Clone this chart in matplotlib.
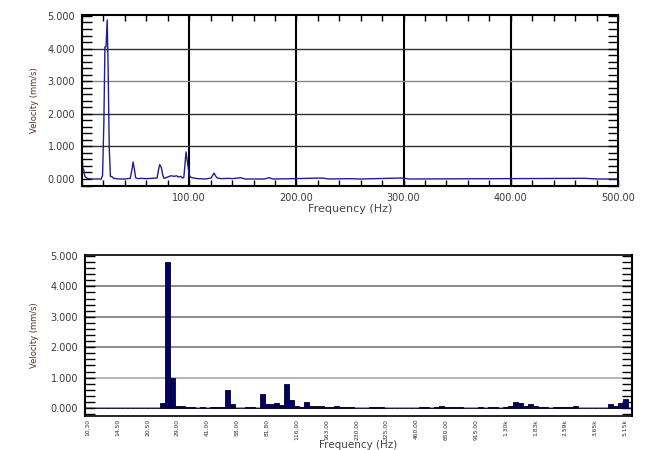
import numpy as np
import matplotlib.pyplot as plt
from matplotlib.ticker import MultipleLocator, FixedLocator

# top chart: velocity spectrum (Hz, mm/s)
top_freq = [0, 0.6, 1.5, 2.5, 3.5, 5, 8, 18, 19.2, 20.4, 21.4, 22.4, 23.5, 24.4, 25.4, 26.5,
            28, 29.5, 35, 40, 45, 46.5, 47.7, 49, 50, 52, 55, 60, 65, 70, 71.5, 72.5, 74,
            75.5, 76.5, 80, 83, 86, 88, 90, 92, 94, 95, 96.2, 97.0, 98.0, 99.0, 100, 101.5,
            103, 106, 108, 115, 120.5, 122, 123.2, 124.5, 126, 130, 137, 140, 143, 148, 152,
            170, 174.5, 178, 198, 224, 230, 249.5, 260, 298.5, 305, 470, 480, 500]
top_vel = [1.2, 0.33, 0.3, 0.1, 0.05, 0.02, 0.0, 0.0, 0.12, 1.75, 4.05, 4.05, 4.88, 3.35, 0.95, 0.08,
           0.07, 0.02, 0.0, 0.0, 0.02, 0.27, 0.52, 0.27, 0.04, 0.01, 0.02, 0.01, 0.02, 0.03, 0.3, 0.44, 0.35,
           0.1, 0.02, 0.06, 0.1, 0.08, 0.1, 0.06, 0.08, 0.03, 0.05, 0.5, 0.83, 0.6, 0.36, 0.12, 0.05,
           0.04, 0.02, 0.01, 0.0, 0.03, 0.12, 0.18, 0.1, 0.03, 0.01, 0.02, 0.01, 0.02, 0.04, 0.0,
           0.0, 0.04, 0.0, 0.01, 0.03, 0.0, 0.01, 0.0, 0.03, 0.0, 0.02, 0.0, 0.0]

# bottom chart: band levels, one value per band
band_labels = ['10.30', '14.50', '20.50', '29.00', '41.00', '58.00', '81.80', '116.00', '163.00',
               '230.00', '325.00', '460.00', '650.00', '915.00', '1.30k', '1.83k', '2.59k',
               '3.65k', '5.15k']
band_vel = [0, 0, 0, 0, 0, 0, 0, 0, 0, 0, 0, 0, 0, 0,
            0.01, 0.18, 4.8, 1.0, 0.07, 0.05, 0.02, 0.02, 0.01, 0.02, 0.0, 0.02, 0.03, 0.02,
            0.58, 0.13, 0.01, 0.01, 0.03, 0.03, 0.01, 0.47, 0.13, 0.14, 0.16, 0.1,
            0.78, 0.27, 0.06, 0.02, 0.2, 0.08, 0.06, 0.07, 0.03, 0.03, 0.07, 0.02,
            0.02, 0.02, 0.01, 0.0, 0.0, 0.02, 0.02, 0.02, 0.01, 0.0, 0.0, 0.01, 0.01, 0.0,
            0.01, 0.04, 0.03, 0.01, 0.04, 0.05, 0.03, 0.02, 0.02, 0.02, 0.01, 0.01, 0.01,
            0.02, 0.01, 0.02, 0.02, 0.01, 0.02, 0.06, 0.2, 0.15, 0.05, 0.12, 0.05, 0.02,
            0.02, 0.0, 0.02, 0.02, 0.02, 0.02, 0.06, 0.01, 0.01, 0.01, 0.01, 0.01, 0.01,
            0.13, 0.08, 0.15, 0.28]

tick_color = '#3a3a3a'
label_color = '#5b2b22'

fig = plt.figure(figsize=(6.54, 4.5), dpi=100)

# ---- top: line spectrum ----
ax1 = fig.add_axes([82 / 654, 1 - 186 / 450, 536 / 654, 171 / 450])
ax1.plot(top_freq, top_vel, color='#1f1f8f', lw=1.0)
ax1.set_xlim(0, 500)
ax1.set_ylim(-0.215, 5.03)
ax1.set_xticks([100, 200, 300, 400, 500])
ax1.set_xticklabels(['100.00', '200.00', '300.00', '400.00', '500.00'])
ax1.xaxis.set_minor_locator(MultipleLocator(20))
ax1.set_yticks([0, 1, 2, 3, 4, 5])
ax1.set_yticklabels(['%.3f' % v for v in range(6)])
ax1.yaxis.set_minor_locator(MultipleLocator(0.2))
ax1.tick_params(axis='x', which='both', direction='in', top=True, length=4, width=1,
                labelsize=7, labelcolor=tick_color, pad=5)
ax1.tick_params(axis='y', which='both', direction='in', right=True, length=7, width=1,
                labelsize=7, labelcolor=tick_color, pad=5)
for v in [100, 200, 300, 400]:
    ax1.axvline(v, color='black', lw=1.5, zorder=1)
for v, c in zip([1, 2, 3, 4], ['#303030', '#303030', '#888888', '#303030']):
    ax1.axhline(v, color=c, lw=1.0, zorder=1)
for s in ax1.spines.values():
    s.set_linewidth(1.5)
ax1.set_xlabel('Frequency (Hz)', fontsize=8, color='#444444', labelpad=1)
ax1.set_ylabel('Velocity (mm/s)', fontsize=6, color=label_color, labelpad=6)

# ---- bottom: band bars ----
ax2 = fig.add_axes([85 / 654, 1 - 416 / 450, 547 / 654, 161 / 450])
idx = np.arange(len(band_vel))
ax2.bar(idx, band_vel, width=1.0, color='#000066', edgecolor='#000022', lw=0.6, zorder=3)
ax2.set_xlim(-0.6, 109.4)
ax2.set_ylim(-0.263, 5.033)
ax2.xaxis.set_major_locator(FixedLocator(np.arange(0, 6 * len(band_labels), 6)))
ax2.set_xticklabels(band_labels, rotation=90, fontsize=4.3, color='#2a2a3a')
ax2.tick_params(axis='x', length=0, pad=2)
ax2.set_yticks([0, 1, 2, 3, 4, 5])
ax2.set_yticklabels(['%.3f' % v for v in range(6)])
ax2.yaxis.set_minor_locator(MultipleLocator(0.2))
ax2.tick_params(axis='y', which='both', direction='in', right=True, length=7, width=1,
                labelsize=7, labelcolor=tick_color, pad=5)
for v, c in zip([0, 1, 2, 3, 4], ['#888888', '#aaaaaa', '#777777', '#777777', '#777777']):
    ax2.axhline(v, color=c, lw=1.2, zorder=1)
for name in ['left', 'right']:
    ax2.spines[name].set_linewidth(1.5)
for name in ['top', 'bottom']:
    ax2.spines[name].set_linestyle((0, (1, 1)))
    ax2.spines[name].set_linewidth(1.2)
ax2.set_ylabel('Velocity (mm/s)', fontsize=6, color=label_color, labelpad=8)
fig.text(358 / 654, 1 - 445 / 450, 'Frequency (Hz)', fontsize=7.5, color='#444444',
         ha='center', va='center')

fig.savefig('out.png', dpi=100)
